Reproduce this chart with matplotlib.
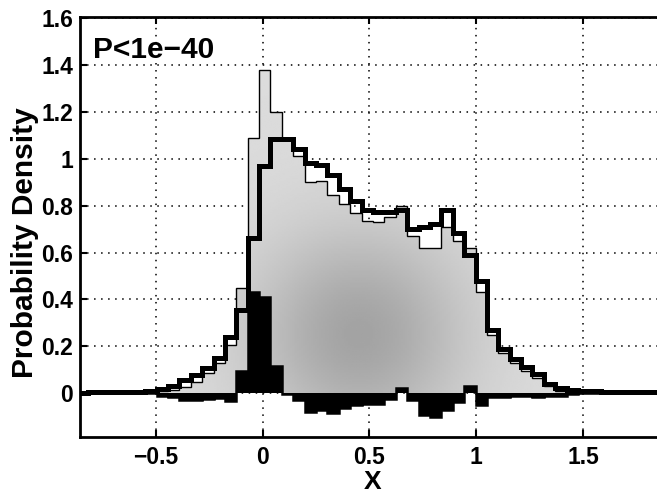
import numpy as np
import matplotlib
matplotlib.use("Agg")
import matplotlib.pyplot as plt

# histogram bins (regular)
bin_start = -0.869
bin_width = 0.0533
n_bins = 52

# gray histogram (thin outline)
gray_hist = [0.0, 0.0, 0.001, 0.001, 0.002, 0.003, 0.005, 0.008, 0.013, 0.027,
             0.048, 0.084, 0.127, 0.205, 0.45, 1.09, 1.377, 1.20, 1.08, 1.01,
             0.90, 0.905, 0.845, 0.805, 0.77, 0.735, 0.73, 0.75, 0.80, 0.67,
             0.62, 0.62, 0.707, 0.648, 0.62, 0.43, 0.25, 0.17, 0.13, 0.095,
             0.065, 0.03, 0.01, 0.004, 0.002, 0.001, 0.0, 0.0, 0.0, 0.0,
             0.0, 0.0]

# thick black step line
thick_hist = [0.002, 0.003, 0.003, 0.004, 0.005, 0.007, 0.010, 0.018, 0.031, 0.056,
              0.077, 0.108, 0.148, 0.238, 0.355, 0.66, 0.97, 1.085, 1.085, 1.04,
              0.98, 0.975, 0.93, 0.87, 0.82, 0.78, 0.775, 0.775, 0.78, 0.70,
              0.71, 0.72, 0.78, 0.685, 0.59, 0.48, 0.27, 0.19, 0.145, 0.11,
              0.08, 0.04, 0.02, 0.013, 0.01, 0.008, 0.006, 0.005, 0.004, 0.003,
              0.003, 0.003]

# black difference bars
diff_hist = [0.0, 0.0, 0.0, 0.0, 0.0, 0.0, 0.0, -0.01, -0.018, -0.029,
             -0.029, -0.024, -0.021, -0.033, 0.095, 0.43, 0.41, 0.115, -0.005, -0.03,
             -0.08, -0.07, -0.085, -0.065, -0.05, -0.045, -0.045, -0.026, 0.023, -0.03,
             -0.094, -0.10, -0.073, -0.037, 0.03, -0.05, -0.017, -0.015, -0.012, -0.012,
             -0.015, -0.01, -0.01, -0.005, 0.0, 0.0, 0.0, 0.0, 0.0, 0.0,
             0.0, 0.0]

x_ticks = [-0.5, 0, 0.5, 1, 1.5]
x_ticklabels = ["\u22120.5", "0", "0.5", "1", "1.5"]
y_ticks = [0, 0.2, 0.4, 0.6, 0.8, 1.0, 1.2, 1.4, 1.6]
y_ticklabels = ["0", "0.2", "0.4", "0.6", "0.8", "1", "1.2", "1.4", "1.6"]

plt.rcParams['font.family'] = ['Liberation Sans', 'DejaVu Sans']

edges = bin_start + bin_width * np.arange(n_bins + 1)
xlim = (-0.854, 1.882)
ylim = (-0.187, 1.605)

fig = plt.figure(figsize=(6.57, 4.94), dpi=100)
ax = fig.add_axes([0.1218, 0.1154, 0.890, 0.8502])

# gray fill: scanned look, darker in the middle of the histogram
gx, gy = np.meshgrid(np.linspace(xlim[0], xlim[1], 300), np.linspace(0, 1.45, 200))
shade = 0.86 - 0.22 * np.exp(-((gx - 0.45) / 0.5) ** 2 - ((gy - 0.25) / 0.45) ** 2)
fill = ax.stairs(gray_hist, edges, fill=True, facecolor="none", edgecolor="none")
im = ax.imshow(shade, extent=[xlim[0], xlim[1], 0, 1.45], origin="lower",
               cmap="gray", vmin=0, vmax=1, aspect="auto", zorder=2,
               interpolation="bilinear")
im.set_clip_path(fill)

ax.stairs(gray_hist, edges, color="black", lw=1.0, zorder=3)
ax.stairs(diff_hist, edges, fill=True, color="black", zorder=4)
ax.stairs(diff_hist, edges, color="black", lw=1.8, zorder=4)
ax.stairs(thick_hist, edges, color="black", lw=3.6, zorder=5)

ax.set_xlim(*xlim)
ax.set_ylim(*ylim)
ax.set_xticks(x_ticks)
ax.set_xticklabels(x_ticklabels)
ax.set_yticks(y_ticks)
ax.set_yticklabels(y_ticklabels)

ax.set_axisbelow(True)
ax.grid(True, color="black", lw=1.1, linestyle=(0, (1, 3.6)))
ax.tick_params(direction="in", length=5, width=1.5, top=True, right=True,
               labelsize=16.5)
ax.tick_params(axis="x", pad=6.5)
ax.tick_params(axis="y", pad=5)
for lab in ax.get_xticklabels() + ax.get_yticklabels():
    lab.set_fontweight("bold")
for s in ["left", "bottom", "top"]:
    ax.spines[s].set_linewidth(2)
ax.spines["right"].set_visible(False)

ax.set_xlabel("X", fontsize=19, fontweight="bold", labelpad=1)
ax.set_ylabel("Probability Density", fontsize=21.5, fontweight="bold")
ax.yaxis.set_label_coords(-0.071, 0.462)
ax.text(0.022, 0.955, "P<1e\u221240", transform=ax.transAxes, fontsize=21.5,
        fontweight="bold", va="top", ha="left")

fig.savefig("out.png", dpi=100)
